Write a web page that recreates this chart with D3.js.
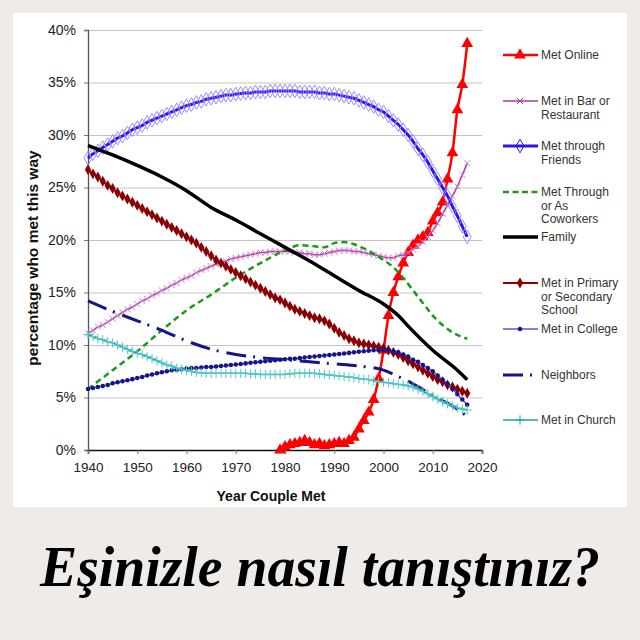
<!DOCTYPE html>
<html>
<head>
<meta charset="utf-8">
<script src="https://cdn.jsdelivr.net/npm/d3@7"></script>
<style>
  body { margin: 0; background: #efebe8; }
  svg { display: block; }
</style>
</head>
<body>
<div id="chart"></div>
<script>
// ---- data (percent) ----
var years = d3.range(1940, 2018);
var onlineYears = d3.range(1979, 2018);

var online = [0.0, 0.3, 0.5, 0.6, 0.7, 0.9, 0.7, 0.5, 0.6, 0.4, 0.5, 0.6, 0.7, 0.6, 0.9,
  1.2, 2.0, 2.8, 3.6, 4.8, 6.8, 9.5, 12.8, 15.0, 16.5, 17.8, 18.8, 19.5, 20.0, 20.3,
  20.7, 21.8, 22.6, 23.6, 25.8, 28.3, 32.4, 34.8, 38.7];

var barRestaurant = [11.1, 11.4, 11.7, 11.9, 12.2, 12.5, 12.8, 13.1, 13.4, 13.6,
  13.9, 14.2, 14.4, 14.7, 14.9, 15.2, 15.4, 15.7, 15.9, 16.2,
  16.4, 16.6, 16.9, 17.1, 17.3, 17.5, 17.7, 17.8, 18.0, 18.2,
  18.3, 18.4, 18.5, 18.6, 18.7, 18.8, 18.8, 18.9, 18.9, 18.9,
  18.9, 18.9, 18.8, 18.8, 18.7, 18.7, 18.6, 18.6, 18.7, 18.8,
  18.9, 19.0, 19.0, 19.0, 18.9, 18.9, 18.8, 18.7, 18.6, 18.5,
  18.4, 18.3, 18.3, 18.5, 18.6, 18.8, 19.1, 19.4, 19.8, 20.3,
  20.9, 21.6, 22.5, 23.3, 24.2, 25.1, 26.2, 27.3];

var friends = [27.8, 28.2, 28.5, 28.8, 29.1, 29.4, 29.7, 29.9, 30.2, 30.5,
  30.7, 30.9, 31.2, 31.4, 31.6, 31.8, 32.0, 32.2, 32.4, 32.6,
  32.8, 32.9, 33.1, 33.2, 33.4, 33.5, 33.6, 33.7, 33.8, 33.8,
  33.9, 33.95, 34.0, 34.0, 34.1, 34.1, 34.1, 34.2, 34.2, 34.2,
  34.2, 34.2, 34.2, 34.1, 34.1, 34.1, 34.1, 34.0, 34.0, 33.9,
  33.9, 33.8, 33.7, 33.6, 33.5, 33.3, 33.1, 32.9, 32.7, 32.4,
  32.2, 31.8, 31.4, 31.0, 30.5, 30.0, 29.4, 28.7, 28.1, 27.4,
  26.6, 25.8, 25.0, 24.2, 23.2, 22.3, 21.3, 20.3];

var coworkerYears = [1940, 1945, 1950, 1955, 1960, 1965, 1970, 1975, 1980, 1983, 1986, 1988,
  1990, 1992, 1994, 1996, 1998, 2000, 2002, 2004, 2006, 2008, 2010, 2012, 2014, 2017];
var coworkers = [5.8, 7.6, 9.4, 11.4, 13.3, 14.8, 16.4, 17.8, 19.0, 19.5, 19.4, 19.3,
  19.7, 19.8, 19.6, 19.2, 18.7, 18.1, 17.4, 16.4, 15.2, 14.0, 12.8, 11.9, 11.2, 10.6];

var familyYears = [1940, 1945, 1950, 1955, 1960, 1965, 1970, 1975, 1980, 1985, 1990,
  1995, 2000, 2003, 2005, 2010, 2015, 2017];
var family = [29.0, 28.1, 27.1, 26.0, 24.7, 23.1, 21.9, 20.6, 19.3, 18.0, 16.6,
  15.2, 13.9, 12.8, 11.8, 9.5, 7.6, 6.7];

var school = [26.7, 26.3, 26.0, 25.6, 25.2, 24.9, 24.5, 24.2, 23.9, 23.6,
  23.3, 23.0, 22.7, 22.4, 22.1, 21.8, 21.5, 21.2, 20.9, 20.6,
  20.3, 20.0, 19.7, 19.3, 18.9, 18.5, 18.1, 17.8, 17.5, 17.2,
  16.9, 16.6, 16.3, 16.0, 15.7, 15.4, 15.1, 14.8, 14.5, 14.3,
  14.0, 13.7, 13.4, 13.2, 13.0, 12.8, 12.6, 12.5, 12.3, 12.0,
  11.6, 11.2, 10.9, 10.6, 10.4, 10.2, 10.1, 10.0, 9.9, 9.8,
  9.7, 9.5, 9.3, 9.1, 8.8, 8.5, 8.2, 7.9, 7.6, 7.3,
  7.0, 6.7, 6.5, 6.2, 6.0, 5.8, 5.6, 5.4];

var college = [5.8, 5.9, 6.0, 6.1, 6.2, 6.35, 6.45, 6.55, 6.65, 6.75,
  6.85, 6.95, 7.1, 7.2, 7.3, 7.4, 7.5, 7.6, 7.65, 7.7,
  7.75, 7.8, 7.8, 7.85, 7.9, 7.9, 7.95, 8.0, 8.05, 8.1,
  8.15, 8.2, 8.25, 8.3, 8.35, 8.4, 8.45, 8.5, 8.55, 8.6,
  8.65, 8.7, 8.7, 8.75, 8.8, 8.85, 8.9, 8.95, 9.0, 9.05,
  9.1, 9.15, 9.2, 9.25, 9.3, 9.35, 9.4, 9.45, 9.5, 9.5,
  9.5, 9.5, 9.4, 9.3, 9.1, 8.9, 8.6, 8.4, 8.1, 7.8,
  7.5, 7.1, 6.7, 6.3, 5.8, 5.3, 4.8, 4.3];

var neighborYears = [1940, 1945, 1950, 1955, 1960, 1965, 1970, 1975, 1980, 1985, 1990,
  1995, 2000, 2003, 2006, 2010, 2014, 2017];
var neighbors = [14.2, 13.2, 12.3, 11.4, 10.4, 9.6, 9.1, 8.8, 8.6, 8.4, 8.2,
  8.0, 7.6, 7.0, 6.3, 5.2, 4.2, 3.2];

var church = [11.0, 10.8, 10.6, 10.5, 10.3, 10.2, 10.0, 9.8, 9.6, 9.4,
  9.2, 9.1, 8.9, 8.7, 8.5, 8.3, 8.1, 8.0, 7.8, 7.7,
  7.6, 7.5, 7.4, 7.35, 7.3, 7.3, 7.3, 7.3, 7.3, 7.3,
  7.3, 7.3, 7.3, 7.25, 7.25, 7.2, 7.2, 7.2, 7.2, 7.2,
  7.2, 7.25, 7.3, 7.3, 7.3, 7.3, 7.3, 7.25, 7.2, 7.15,
  7.1, 7.05, 7.0, 6.95, 6.9, 6.8, 6.75, 6.7, 6.6, 6.5,
  6.45, 6.4, 6.3, 6.25, 6.2, 6.1, 6.0, 5.8, 5.6, 5.35,
  5.1, 4.85, 4.6, 4.4, 4.2, 4.0, 3.9, 3.8];

var yTicks = [0, 5, 10, 15, 20, 25, 30, 35, 40];
var xTicks = [1940, 1950, 1960, 1970, 1980, 1990, 2000, 2010, 2020];

var legendLabels = [
  ["Met Online"],
  ["Met in Bar or", "Restaurant"],
  ["Met through", "Friends"],
  ["Met Through", "or As", "Coworkers"],
  ["Family"],
  ["Met in Primary", "or Secondary", "School"],
  ["Met in College"],
  ["Neighbors"],
  ["Met in Church"]
];

var title = "Eşinizle nasıl tanıştınız?";

// ---- layout ----
var width = 640, height = 640;
var x = d3.scaleLinear().domain([1940, 2020]).range([88, 482]);
var y = d3.scaleLinear().domain([0, 40]).range([450, 30]);

function pts(ys, vs) {
  return ys.map(function(d, i) { return { year: d, v: vs[i] }; });
}

var timesSym = d3.symbolTimes || { draw: function(c, s) {
  var r = Math.sqrt(s) / 2;
  c.moveTo(-r, -r); c.lineTo(r, r); c.moveTo(r, -r); c.lineTo(-r, r);
} };
var plusSym = d3.symbolPlus || { draw: function(c, s) {
  var r = Math.sqrt(s) / 2;
  c.moveTo(-r, 0); c.lineTo(r, 0); c.moveTo(0, -r); c.lineTo(0, r);
} };

// drawing order = legend order (later on top)
var series = [
  { data: pts(onlineYears, online), color: '#ff0000', w: 2.5,
    sym: d3.symbolTriangle, size: 60, fill: '#ff0000', stroke: 'none', legendY: 55 },
  { data: pts(years, barRestaurant), color: '#a63aa6', w: 1.5,
    sym: timesSym, size: 26, fill: 'none', stroke: '#d080d0', sw: 1, legendY: 101 },
  { data: pts(years, friends), color: '#2a14f0', w: 3,
    sym: d3.symbolDiamond, size: 54, fill: 'none', stroke: '#9c8cff', sw: 1, legendY: 146 },
  { data: pts(coworkerYears, coworkers), color: '#1a991a', w: 2.5, dash: '6,4',
    legendY: 192 },
  { data: pts(familyYears, family), color: '#000000', w: 3.5, legendY: 237 },
  { data: pts(years, school), color: '#8b0000', w: 2,
    sym: d3.symbolDiamond, size: 34, fill: '#8b0000', stroke: 'none', legendY: 283 },
  { data: pts(years, college), color: '#5b52c8', w: 1.5,
    sym: d3.symbolCircle, size: 16, fill: '#16148a', stroke: 'none', legendY: 329 },
  { data: pts(neighborYears, neighbors), color: '#16148a', w: 3, dash: '20,7,2,8',
    legendY: 375 },
  { data: pts(years, church), color: '#1fa3a3', w: 1.5,
    sym: plusSym, size: 30, fill: 'none', stroke: '#55c8c8', sw: 1, legendY: 420 }
];

var svg = d3.select('#chart').append('svg')
    .attr('width', width)
    .attr('height', height)
    .style('background', '#efebe8');

svg.append('rect')
    .attr('x', 13).attr('y', 13)
    .attr('width', 614).attr('height', 494)
    .attr('fill', '#ffffff');

// gridlines
svg.append('g')
    .attr('transform', 'translate(' + x(1940) + ',0)')
    .call(d3.axisLeft(y).tickValues(yTicks.slice(1)).tickSize(-(x(2020) - x(1940))).tickFormat(''))
    .call(function(g) {
      g.select('.domain').remove();
      g.selectAll('line').attr('stroke', '#c4c4c4').attr('stroke-width', 1.2);
    });

// y axis
svg.append('g')
    .attr('transform', 'translate(' + x(1940) + ',0)')
    .call(d3.axisLeft(y).tickValues(yTicks).tickSize(4).tickPadding(8)
      .tickFormat(function(d) { return d + '%'; }))
    .call(function(g) {
      g.select('.domain').attr('stroke', '#555').attr('stroke-width', 1.3);
      g.selectAll('line').attr('stroke', '#777');
      g.selectAll('text')
        .attr('font-family', '"Liberation Sans", Arial, sans-serif')
        .attr('font-size', 14).attr('fill', '#222');
    });

// x axis
svg.append('g')
    .attr('transform', 'translate(0,' + y(0) + ')')
    .call(d3.axisBottom(x).tickValues(xTicks).tickSize(4).tickPadding(8)
      .tickFormat(d3.format('d')))
    .call(function(g) {
      g.select('.domain').attr('stroke', '#111').attr('stroke-width', 1.6);
      g.selectAll('line').attr('stroke', '#777');
      g.selectAll('text')
        .attr('font-family', '"Liberation Sans", Arial, sans-serif')
        .attr('font-size', 13.5).attr('fill', '#222');
    });

// axis titles
svg.append('text')
    .attr('x', 271).attr('y', 501)
    .attr('text-anchor', 'middle')
    .attr('font-family', '"Liberation Sans", Arial, sans-serif')
    .attr('font-weight', 'bold').attr('font-size', 14)
    .attr('fill', '#111')
    .text('Year Couple Met');

svg.append('text')
    .attr('transform', 'translate(38,258) rotate(-90)')
    .attr('text-anchor', 'middle')
    .attr('font-family', '"Liberation Sans", Arial, sans-serif')
    .attr('font-weight', 'bold').attr('font-size', 15.5)
    .attr('fill', '#111')
    .text('percentage who met this way');

// lines + markers
var line = d3.line()
    .x(function(d) { return x(d.year); })
    .y(function(d) { return y(d.v); })
    .curve(d3.curveMonotoneX);

series.forEach(function(s) {
  var g = svg.append('g');
  g.append('path')
      .datum(s.data)
      .attr('d', line)
      .attr('fill', 'none')
      .attr('stroke', s.color)
      .attr('stroke-width', s.w)
      .attr('stroke-linejoin', 'round')
      .attr('stroke-dasharray', s.dash || null);
  if (s.sym) {
    g.selectAll('path.m').data(s.data).enter().append('path')
        .attr('class', 'm')
        .attr('d', d3.symbol().type(s.sym).size(s.size))
        .attr('transform', function(d) { return 'translate(' + x(d.year) + ',' + y(d.v) + ')'; })
        .attr('fill', s.fill)
        .attr('stroke', s.stroke)
        .attr('stroke-width', s.sw || 0);
  }
});

// legend
var legend = svg.append('g');
series.forEach(function(s, i) {
  var ly = s.legendY;
  legend.append('line')
      .attr('x1', 503).attr('x2', 538).attr('y1', ly).attr('y2', ly)
      .attr('stroke', s.color)
      .attr('stroke-width', s.w)
      .attr('stroke-dasharray', s.dash ? (i === 7 ? '20,7,2,8' : '6,3.5') : null);
  if (s.sym) {
    legend.append('path')
        .attr('d', d3.symbol().type(s.sym).size(s.size))
        .attr('transform', 'translate(520,' + ly + ')')
        .attr('fill', s.fill)
        .attr('stroke', s.stroke === 'none' ? 'none' : s.color)
        .attr('stroke-width', s.sw || 0);
  }
  legend.append('text')
      .attr('x', 541).attr('y', ly)
      .attr('font-family', '"Liberation Sans", Arial, sans-serif')
      .attr('font-size', 12).attr('fill', '#333')
      .selectAll('tspan').data(legendLabels[i]).enter().append('tspan')
        .attr('x', 541)
        .attr('dy', function(d, j) { return j === 0 ? '0.35em' : 13.5; })
        .text(function(d) { return d; });
});

// title below the chart
svg.append('text')
    .attr('x', 320).attr('y', 586)
    .attr('text-anchor', 'middle')
    .attr('font-family', '"Liberation Serif", "DejaVu Serif", serif')
    .attr('font-weight', 'bold').attr('font-style', 'italic')
    .attr('font-size', 57)
    .attr('textLength', 560)
    .attr('lengthAdjust', 'spacingAndGlyphs')
    .attr('fill', '#000')
    .text(title);
</script>
</body>
</html>
